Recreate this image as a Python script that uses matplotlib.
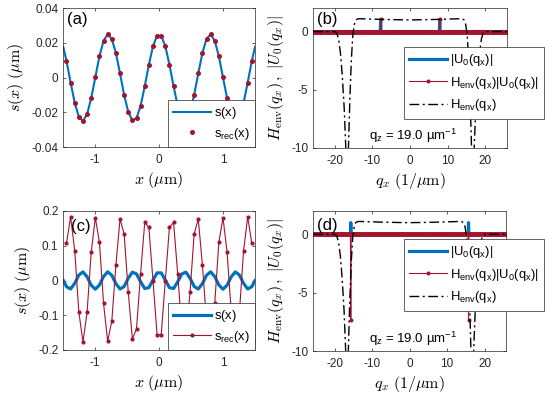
import numpy as np
import matplotlib
matplotlib.use('Agg')
import matplotlib.pyplot as plt

plt.rcParams['font.family'] = ['Liberation Sans', 'DejaVu Sans']
plt.rcParams['mathtext.fontset'] = 'cm'
plt.rcParams['axes.unicode_minus'] = False

BLUE = '#0072BD'
RED = '#A2142F'
DARK = '#262626'

# sample positions in x (um)
x_s = np.linspace(-1.45, 1.45, 46)
x_edge = [-1.5, 1.5]

# panel (a): s(x) and reconstructed dots
s_a = [0.0096, -0.0028, -0.0145, -0.0226, -0.0250, -0.0211, -0.0119, 0.0002,
       0.0123, 0.0213, 0.0250, 0.0224, 0.0142, 0.0024, -0.0100, -0.0198,
       -0.0247, -0.0234, -0.0162, -0.0050, 0.0075, 0.0181, 0.0242,
       0.0242, 0.0181, 0.0075, -0.0050, -0.0162, -0.0234, -0.0247, -0.0198,
       -0.0100, 0.0024, 0.0142, 0.0224, 0.0250, 0.0213, 0.0123, 0.0002,
       -0.0119, -0.0211, -0.0250, -0.0226, -0.0145, -0.0028, 0.0096]
s_a_edge = [0.0177, 0.0177]
srec_a = s_a

# panel (c)
s_c = [-0.0177, -0.0244, -0.0081, 0.0157, 0.0248, 0.0106, -0.0136, -0.0250,
       -0.0129, 0.0114, 0.0249, 0.0150, -0.0090, -0.0245, -0.0171, 0.0065,
       0.0239, 0.0189, -0.0039, -0.0230, -0.0205, 0.0013, 0.0219,
       0.0219, 0.0013, -0.0205, -0.0230, -0.0039, 0.0189, 0.0239, 0.0065,
       -0.0171, -0.0245, -0.0090, 0.0150, 0.0249, 0.0114, -0.0129, -0.0250,
       -0.0136, 0.0106, 0.0248, 0.0157, -0.0081, -0.0244, -0.0177]
s_c_edge = [0.0, 0.0]
srec_c = [0.107, 0.183, 0.086, -0.091, -0.177, -0.091, 0.081, 0.181, 0.110,
          -0.066, -0.175, -0.117, 0.045, 0.177, 0.134, -0.034, -0.168, -0.139,
          0.020, 0.167, 0.153, 0.000, -0.156,
          -0.156, 0.000, 0.153, 0.167, 0.020, -0.139, -0.168, -0.034, 0.134,
          0.177, 0.045, -0.117, -0.175, -0.066, 0.110, 0.181, 0.081, -0.091,
          -0.177, -0.091, 0.086, 0.183, 0.107]

# spectra panels (b), (d)
q = np.linspace(-25.7, 25.7, 515)
spike_q_b = [-7.85, 7.85]
spike_u0_b = [1.0, 1.0]
spike_rec_b = [1.05, 1.05]
spike_q_d = [-15.7, 15.7]
spike_u0_d = [1.0, 1.0]
spike_rec_d = [-7.3, -7.3]

henv_q = [-25.7, -20.0, -19.5, -19.0, -18.5, -18.0, -17.5, -17.0, -16.7, -16.4,
          -16.0, -15.6, -15.2, -14.8, -14.4, -13.8, -13.0, -11.0, -8.0, -4.0,
          0.0, 4.0, 8.0, 11.0, 13.0, 13.8, 14.4, 14.8, 15.2, 15.6, 16.0, 16.4,
          16.7, 17.0, 17.5, 18.0, 18.5, 19.0, 19.5, 20.0, 25.7]
henv = [0.0, 0.0, -0.1, -0.6, -1.8, -3.8, -6.5, -10.5, -13.0, -10.5,
        -6.0, -2.5, -0.3, 0.6, 1.0, 1.1, 1.1, 1.08, 1.05, 1.02,
        1.0, 1.02, 1.05, 1.08, 1.1, 1.1, 1.0, 0.6, -0.3, -2.5, -6.0, -10.5,
        -13.0, -10.5, -6.5, -3.8, -1.8, -0.6, -0.1, 0.0, 0.0]


def spikes(qs, hs):
    arr = np.zeros_like(q)
    for qq, h in zip(qs, hs):
        arr[np.argmin(np.abs(q - qq))] = h
    return arr


W, H = 550.0, 395.0


def box(l, t, r, b):
    return [l / W, 1 - b / H, (r - l) / W, (b - t) / H]


def style(ax):
    for sp in ax.spines.values():
        sp.set_linewidth(0.5)
        sp.set_color(DARK)
    ax.tick_params(direction='in', top=True, right=True, length=2.5,
                   width=0.5, labelsize=8.5, colors=DARK)
    ax.tick_params(axis='x', pad=5)


def legend(ax, fs, spacing, **kw):
    lg = ax.legend(fontsize=fs, fancybox=False, framealpha=1, borderaxespad=0,
                   edgecolor=DARK, handlelength=2.9, handletextpad=0.25,
                   borderpad=0.4, labelspacing=spacing, **kw)
    lg.get_frame().set_linewidth(0.5)
    return lg


fig = plt.figure(figsize=(5.5, 3.95), dpi=100)

ax_a = fig.add_axes(box(63.3, 8.3, 255, 147))
ax_b = fig.add_axes(box(313.3, 8.3, 506.7, 147.7))
ax_c = fig.add_axes(box(63.3, 211, 255, 350))
ax_d = fig.add_axes(box(313.3, 211, 506, 351))

xticks = [-1, 0, 1]
xticklabels = ['-1', '0', '1']
qticks = [-20, -10, 0, 10, 20]
qticklabels = ['-20', '-10', '0', '10', '20']
hticks = [-10, -5, 0]
hticklabels = ['-10', '-5', '0']

# (a)
ax_a.plot(np.r_[x_edge[0], x_s, x_edge[1]], np.r_[s_a_edge[0], s_a, s_a_edge[1]],
          color=BLUE, lw=1.5, label=r'$\mathregular{s(x)}$')
ax_a.plot(x_s, srec_a, 'o', color=RED, ms=3.6, mew=0,
          label=r'$\mathregular{s_{rec}(x)}$')
ax_a.set_xlim(-1.5, 1.5)
ax_a.set_ylim(-0.04, 0.04)
ax_a.set_yticks([-0.04, -0.02, 0, 0.02, 0.04])
ax_a.set_yticklabels(['-0.04', '-0.02', '0', '0.02', '0.04'])
ax_a.set_xticks(xticks)
ax_a.set_xticklabels(xticklabels)
ax_a.set_xlabel(r'$x\ (\mu{\rm m})$', fontsize=11.5, labelpad=3)
ax_a.set_ylabel(r'$s(x)\ (\mu{\rm m})$', fontsize=11.5)
legend(ax_a, 9.3, 0.35, loc='lower right', bbox_to_anchor=(1, 0))
ax_a.text(0.02, 0.97, '(a)', transform=ax_a.transAxes, va='top', fontsize=12)

# (c)
ax_c.plot(np.r_[x_edge[0], x_s, x_edge[1]], np.r_[s_c_edge[0], s_c, s_c_edge[1]],
          color=BLUE, lw=2.3, label=r'$\mathregular{s(x)}$')
ax_c.plot(x_s, srec_c, '-o', color=RED, lw=0.8, ms=3.0, mew=0,
          label=r'$\mathregular{s_{rec}(x)}$')
ax_c.set_xlim(-1.5, 1.5)
ax_c.set_ylim(-0.2, 0.2)
ax_c.set_yticks([-0.2, -0.1, 0, 0.1, 0.2])
ax_c.set_yticklabels(['-0.2', '-0.1', '0', '0.1', '0.2'])
ax_c.set_xticks(xticks)
ax_c.set_xticklabels(xticklabels)
ax_c.set_xlabel(r'$x\ (\mu{\rm m})$', fontsize=11.5, labelpad=3)
ax_c.set_ylabel(r'$s(x)\ (\mu{\rm m})$', fontsize=11.5)
legend(ax_c, 9.3, 0.35, loc='lower right', bbox_to_anchor=(1, 0))
ax_c.text(0.04, 0.94, '(c)', transform=ax_c.transAxes, va='top', fontsize=12)

# (b), (d)
panels = [(ax_b, spike_q_b, spike_u0_b, spike_rec_b, '(b)', (1.193, 0.722), 0.97),
          (ax_d, spike_q_d, spike_u0_d, spike_rec_d, '(d)', (1.199, 0.80), 0.95)]
for ax, sq, su, sr, tag, anchor, ty in panels:
    ax.plot(q, spikes(sq, su), color=BLUE, lw=2.3,
            label=r'$\mathregular{|U_0(q_x)|}$')
    ax.plot(q, spikes(sq, sr), '-o', color=RED, lw=0.8, ms=2.9, mew=0,
            label=r'$\mathregular{H_{env}(q_x)|U_0(q_x)|}$')
    ax.plot(henv_q, henv, color='black', lw=1.0, ls=(0, (7, 2.5, 1.5, 2.5)),
            label=r'$\mathregular{H_{env}(q_x)}$')
    ax.set_xlim(-25.7, 25.7)
    ax.set_ylim(-10, 2)
    ax.set_xticks(qticks)
    ax.set_xticklabels(qticklabels)
    ax.set_yticks(hticks)
    ax.set_yticklabels(hticklabels)
    ax.set_xlabel(r'$q_x\ (1/\mu{\rm m})$', fontsize=11.5, labelpad=3)
    ax.set_ylabel(r'$H_{\rm env}(q_x)\,,\ |U_0(q_x)|$', fontsize=11.5)
    legend(ax, 9.4, 0.5, loc='upper right', bbox_to_anchor=anchor)
    ax.text(-10.8, -9.0, r'$\mathregular{q_z}$ = 19.0 µm$\mathregular{^{-1}}$',
            va='center', fontsize=9.5)
    ax.text(0.02, ty, tag, transform=ax.transAxes, va='top', fontsize=12)

for ax in (ax_a, ax_b, ax_c, ax_d):
    style(ax)

fig.savefig('out.png', dpi=100)
